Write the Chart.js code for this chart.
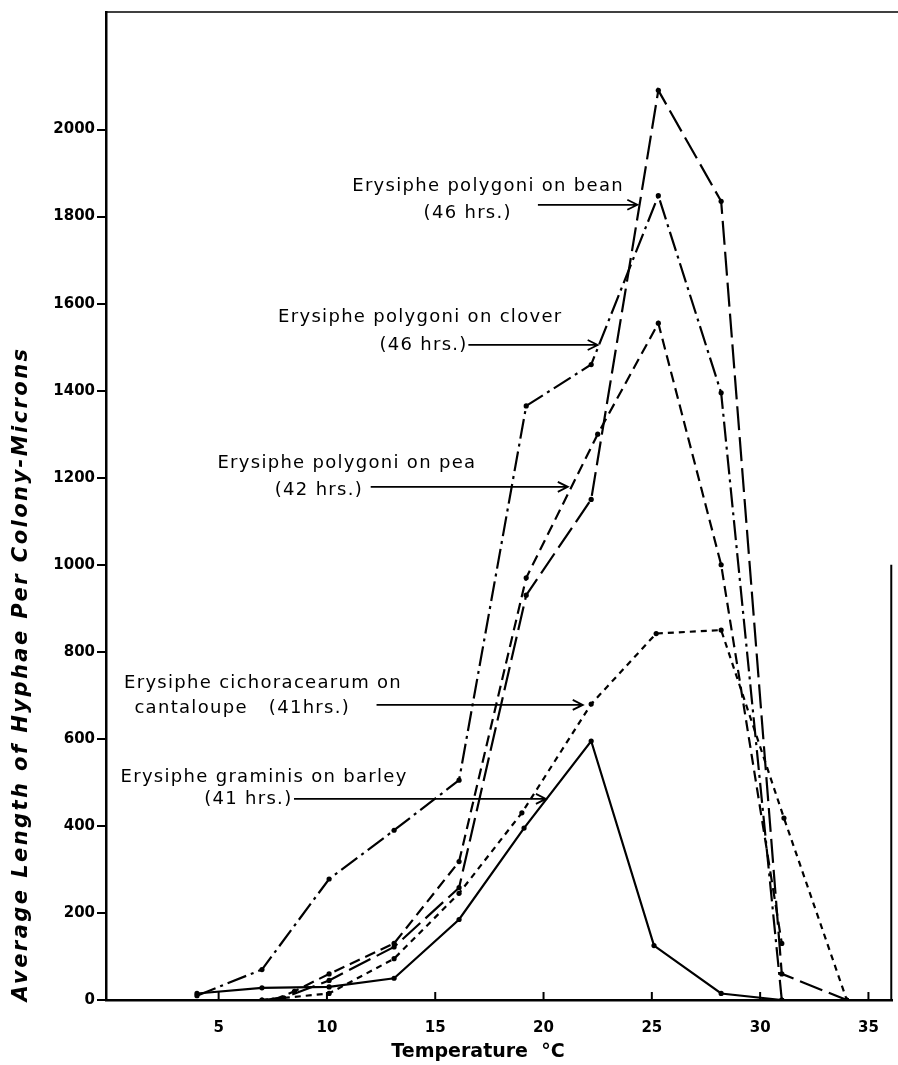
<!DOCTYPE html>
<html>
<head>
<meta charset="utf-8">
<script src="https://cdn.jsdelivr.net/npm/chart.js@4.4.1/dist/chart.umd.min.js"></script>
<style>
  html, body { margin: 0; padding: 0; background: #fff; }
  canvas { display: block; }
</style>
</head>
<body>
<canvas id="chart" width="898" height="1065"></canvas>
<script>
// temperature (°C) and average hyphae length per colony (microns)
const beanTemps = [7, 8, 10.1, 13.1, 16.1, 19.2, 22.2, 25.3, 28.2, 31, 34];
const beanLength = [0, 5, 45, 122, 258, 930, 1150, 2090, 1835, 60, 0];

const cloverTemps = [4, 7, 10.1, 13.1, 16.1, 19.2, 22.2, 25.3, 28.2, 31];
const cloverLength = [10, 70, 278, 390, 505, 1365, 1460, 1848, 1395, 0];

const peaTemps = [7.5, 8.5, 10.1, 13.1, 16.1, 19.2, 22.5, 25.3, 28.2, 31];
const peaLength = [0, 20, 60, 130, 318, 970, 1300, 1555, 1000, 130];

const cantaloupeTemps = [7, 10.1, 13.1, 16.1, 19.0, 22.2, 25.2, 28.2, 31.1, 34];
const cantaloupeLength = [0, 15, 95, 245, 430, 680, 842, 850, 418, 0];

const barleyTemps = [4, 7, 10.1, 13.1, 16.1, 19.1, 22.2, 25.1, 28.2, 31];
const barleyLength = [15, 28, 30, 50, 185, 395, 595, 125, 15, 0];

const xTicks = [5, 10, 15, 20, 25, 30, 35];
const yTicks = [0, 200, 400, 600, 800, 1000, 1200, 1400, 1600, 1800, 2000];

// label text placed in data units, arrows point at the curves
const notes = [
    { text: 'Erysiphe polygoni on bean', x: 17.44, y: 1870 },
    { text: '(46 hrs.)', x: 16.5, y: 1808 },
    { text: 'Erysiphe polygoni on clover', x: 14.31, y: 1569 },
    { text: '(46 hrs.)', x: 14.46, y: 1505 },
    { text: 'Erysiphe polygoni on pea', x: 10.92, y: 1234 },
    { text: '(42 hrs.)', x: 9.63, y: 1172 },
    { text: 'Erysiphe cichoracearum on', x: 7.05, y: 728 },
    { text: 'cantaloupe   (41hrs.)', x: 6.09, y: 671 },
    { text: 'Erysiphe graminis on barley', x: 7.1, y: 512 },
    { text: '(41 hrs.)', x: 6.37, y: 460 }
];
const arrows = [
    { from: 19.74, to: 24.33, y: 1827 },
    { from: 16.53, to: 22.5, y: 1505 },
    { from: 12.02, to: 21.12, y: 1179 },
    { from: 12.29, to: 21.81, y: 678 },
    { from: 8.48, to: 20.11, y: 462 }
];

function pts(t, v) {
    return t.map((x, i) => ({ x: x, y: v[i] }));
}

function series(label, t, v, dash) {
    return {
        label: label,
        data: pts(t, v),
        borderColor: '#000',
        borderWidth: 2.2,
        borderDash: dash,
        pointRadius: 2.6,
        pointBackgroundColor: '#000',
        pointBorderWidth: 0,
        tension: 0,
        fill: false
    };
}

function fitText(ctx, text, width) {
    ctx.letterSpacing = '0px';
    const w = ctx.measureText(text).width;
    ctx.letterSpacing = Math.max(0, (width - w) / text.length) + 'px';
}

const decor = {
    id: 'decor',
    afterDraw(chart) {
        const { ctx, chartArea: a, scales: { x, y } } = chart;
        ctx.save();
        ctx.strokeStyle = '#000';
        ctx.fillStyle = '#000';

        // top frame line and the partial right edge
        ctx.lineWidth = 1.6;
        ctx.beginPath();
        ctx.moveTo(a.left, a.top);
        ctx.lineTo(chart.width, a.top);
        ctx.stroke();
        ctx.lineWidth = 2;
        ctx.beginPath();
        ctx.moveTo(a.right - 1, y.getPixelForValue(1000));
        ctx.lineTo(a.right - 1, a.bottom);
        ctx.stroke();

        // x ticks point up into the plot
        xTicks.forEach(v => {
            const px = x.getPixelForValue(v);
            ctx.beginPath();
            ctx.moveTo(px, a.bottom);
            ctx.lineTo(px, a.bottom - 8);
            ctx.stroke();
        });

        // annotations
        ctx.font = '18px "DejaVu Sans"';
        ctx.letterSpacing = '1.3px';
        ctx.textAlign = 'center';
        ctx.textBaseline = 'middle';
        notes.forEach(n => {
            ctx.fillText(n.text, x.getPixelForValue(n.x), y.getPixelForValue(n.y));
        });
        ctx.lineWidth = 1.8;
        arrows.forEach(ar => {
            const x1 = x.getPixelForValue(ar.from);
            const x2 = x.getPixelForValue(ar.to);
            const py = y.getPixelForValue(ar.y);
            ctx.beginPath();
            ctx.moveTo(x1, py);
            ctx.lineTo(x2, py);
            ctx.moveTo(x2 - 10, py - 5);
            ctx.lineTo(x2, py);
            ctx.lineTo(x2 - 10, py + 5);
            ctx.stroke();
        });

        // axis titles
        ctx.font = 'italic bold 21px "DejaVu Sans"';
        const yTitle = 'Average Length of Hyphae Per Colony-Microns';
        fitText(ctx, yTitle, 655);
        ctx.translate(22, 674);
        ctx.rotate(-Math.PI / 2);
        ctx.fillText(yTitle, 0, 0);
        ctx.setTransform(1, 0, 0, 1, 0, 0);

        ctx.font = 'bold 19px "DejaVu Sans"';
        const xTitle = 'Temperature  °C';
        fitText(ctx, xTitle, 172);
        ctx.fillText(xTitle, 478, 1052);
        ctx.restore();
    }
};

new Chart(document.getElementById('chart'), {
    type: 'line',
    data: {
        datasets: [
            series('Erysiphe polygoni on bean (46 hrs.)', beanTemps, beanLength, [24, 7]),
            series('Erysiphe polygoni on clover (46 hrs.)', cloverTemps, cloverLength, [20, 5, 3, 5]),
            series('Erysiphe polygoni on pea (42 hrs.)', peaTemps, peaLength, [11, 6]),
            series('Erysiphe cichoracearum on cantaloupe (41 hrs.)', cantaloupeTemps, cantaloupeLength, [6, 5]),
            series('Erysiphe graminis on barley (41 hrs.)', barleyTemps, barleyLength, [])
        ]
    },
    options: {
        responsive: false,
        animation: false,
        devicePixelRatio: 1,
        layout: {
            padding: { top: 12, right: 2, left: 0, bottom: 0 }
        },
        plugins: {
            legend: { display: false },
            tooltip: { enabled: false }
        },
        scales: {
            x: {
                type: 'linear',
                min: -0.2,
                max: 36.1,
                afterBuildTicks: scale => { scale.ticks = xTicks.map(v => ({ value: v })); },
                afterFit: scale => { scale.height = 65; },
                grid: { display: true, drawOnChartArea: false, drawTicks: false },
                border: { display: true, color: '#000', width: 2.5 },
                ticks: {
                    color: '#000',
                    padding: 19,
                    maxRotation: 0,
                    font: { family: 'DejaVu Sans', weight: 'bold', size: 15 }
                }
            },
            y: {
                min: 0,
                max: 2270,
                afterBuildTicks: scale => { scale.ticks = yTicks.map(v => ({ value: v })); },
                afterFit: scale => { scale.width = 106; },
                grid: {
                    drawOnChartArea: false,
                    drawTicks: true,
                    tickLength: 9,
                    color: '#000',
                    lineWidth: 2
                },
                border: { display: true, color: '#000', width: 2.5 },
                ticks: {
                    color: '#000',
                    padding: 2,
                    callback: v => String(v),
                    font: { family: 'DejaVu Sans', weight: 'bold', size: 15 }
                }
            }
        }
    },
    plugins: [decor]
});
</script>
</body>
</html>
